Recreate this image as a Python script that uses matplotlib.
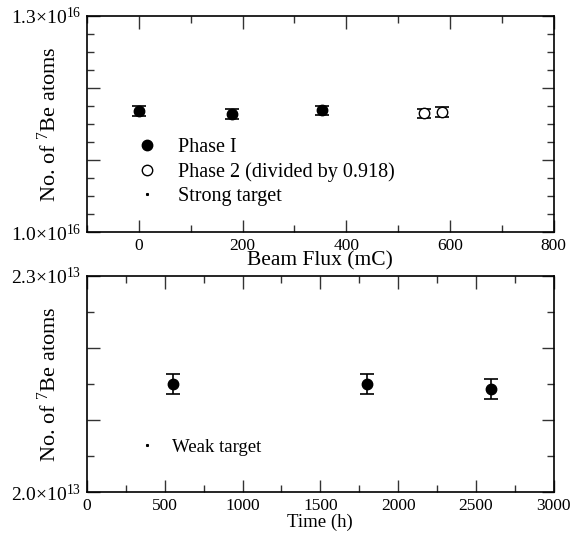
import matplotlib
matplotlib.use("Agg")
import matplotlib.pyplot as plt
from matplotlib.lines import Line2D
from matplotlib.ticker import FixedLocator, FixedFormatter, MultipleLocator

plt.rcParams['font.family'] = ['Liberation Serif', 'DejaVu Serif']
plt.rcParams['mathtext.fontset'] = 'custom'
plt.rcParams['mathtext.rm'] = 'Liberation Serif'
plt.rcParams['mathtext.it'] = 'Liberation Serif:italic'

# --- strong target (top panel), values in units of 1e16 ---
phase1_flux = [0, 180, 353]
phase1_atoms = [1.168, 1.164, 1.169]
phase1_err = [0.0065, 0.0065, 0.0065]
phase2_flux = [550, 585]
phase2_atoms = [1.165, 1.167]
phase2_err = [0.0065, 0.0065]

# --- weak target (bottom panel), values in units of 1e13 ---
weak_time = [550, 1800, 2600]
weak_atoms = [2.150, 2.150, 2.143]
weak_err = [0.014, 0.014, 0.014]

top_ylabels = [r"1.0×10$^{16}$", "", "", r"1.3×10$^{16}$"]
bot_ylabels = [r"2.0×10$^{13}$", "", "", r"2.3×10$^{13}$"]

fig = plt.figure(figsize=(5.83, 5.33), dpi=100)
ax1 = fig.add_axes([0.1492, 0.5642, 0.8005, 0.4058])
ax2 = fig.add_axes([0.1492, 0.0769, 0.8005, 0.4053])


def style_axis(ax):
    for s in ax.spines.values():
        s.set_linewidth(1.2)
    ax.tick_params(which='both', direction='in', top=True, right=True,
                   width=1.0, color='#333333')
    ax.tick_params(axis='x', labelsize=12.5)
    ax.tick_params(axis='y', labelsize=14)
    ax.tick_params(which='major', length=9, pad=4)
    ax.tick_params(which='minor', length=5)
    ax.yaxis.set_label_coords(-0.056, 0.5)


# top panel
ax1.errorbar(phase1_flux, phase1_atoms, yerr=phase1_err, fmt='o', color='black',
             markersize=7.5, capsize=5, elinewidth=1.2, capthick=1.2)
ax1.errorbar(phase2_flux, phase2_atoms, yerr=phase2_err, fmt='o', color='black',
             markerfacecolor='white', markersize=7.5, capsize=5, elinewidth=1.0,
             capthick=1.2)
ax1.set_xlim(-100, 800)
ax1.set_ylim(1.0, 1.3)
ax1.xaxis.set_major_locator(MultipleLocator(200))
ax1.xaxis.set_minor_locator(MultipleLocator(100))
ax1.yaxis.set_major_locator(FixedLocator([1.0, 1.1, 1.2, 1.3]))
ax1.yaxis.set_major_formatter(FixedFormatter(top_ylabels))
ax1.yaxis.set_minor_locator(MultipleLocator(0.025))
ax1.set_xlabel("Beam Flux (mC)", fontsize=15.5, labelpad=-2)
ax1.set_ylabel(r"No. of $^{7}$Be atoms", fontsize=16)
style_axis(ax1)
top_handles = [
    Line2D([], [], ls='none', marker='o', color='black', markersize=7.5),
    Line2D([], [], ls='none', marker='o', color='black', markerfacecolor='white',
           markersize=7.5),
    Line2D([], [], ls='none', marker='s', color='black', markersize=1.2),
]
ax1.legend(top_handles, ['Phase I', 'Phase 2 (divided by 0.918)', 'Strong target'],
           loc='center left', bbox_to_anchor=(0.107, 0.279), frameon=False,
           fontsize=14.5, handlelength=1.0, handletextpad=1.05, labelspacing=0.25,
           borderpad=0, borderaxespad=0)

# bottom panel
ax2.errorbar(weak_time, weak_atoms, yerr=weak_err, fmt='o', color='black',
             markersize=7.5, capsize=5, elinewidth=1.2, capthick=1.2)
ax2.set_xlim(0, 3000)
ax2.set_ylim(2.0, 2.3)
ax2.xaxis.set_major_locator(MultipleLocator(500))
ax2.xaxis.set_minor_locator(MultipleLocator(250))
ax2.yaxis.set_major_locator(FixedLocator([2.0, 2.1, 2.2, 2.3]))
ax2.yaxis.set_major_formatter(FixedFormatter(bot_ylabels))
ax2.yaxis.set_minor_locator(MultipleLocator(0.05))
ax2.set_xlabel("Time (h)", fontsize=13.5, labelpad=0)
ax2.set_ylabel(r"No. of $^{7}$Be atoms", fontsize=16)
style_axis(ax2)
weak_handle = [Line2D([], [], ls='none', marker='s', color='black', markersize=1.2)]
ax2.legend(weak_handle, ['Weak target'], loc='center left',
           bbox_to_anchor=(0.108, 0.207), frameon=False, fontsize=13.5,
           handlelength=1.0, handletextpad=0.83, borderpad=0, borderaxespad=0)

fig.savefig("out.png", dpi=100)
